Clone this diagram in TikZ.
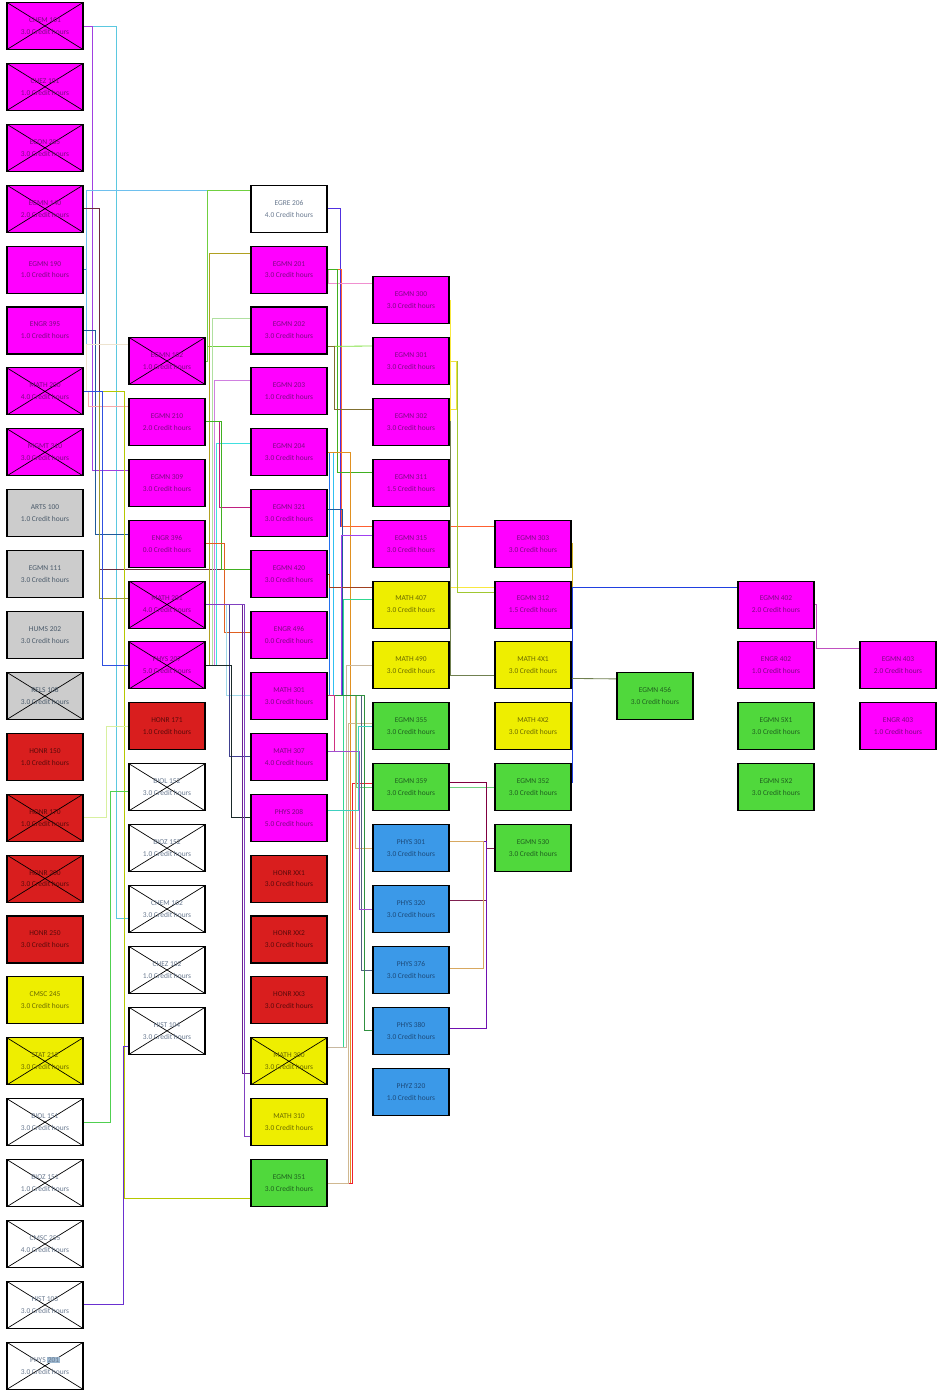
\documentclass[tikz,border=0pt]{standalone}
\usepackage{fontspec}
\setmainfont{Carlito}
\usepackage{tikz}
\usetikzlibrary{calc,backgrounds}
\definecolor{fmag}{HTML}{FF00FF}
\definecolor{tmag}{HTML}{7A0A80}
\definecolor{fgry}{HTML}{CCCCCC}
\definecolor{tgry}{HTML}{4A5A6A}
\definecolor{fhon}{HTML}{D91E1E}
\definecolor{thon}{HTML}{5A0A0A}
\definecolor{fyel}{HTML}{EEEE00}
\definecolor{tyel}{HTML}{6A6A00}
\definecolor{fgrn}{HTML}{50D83C}
\definecolor{tgrn}{HTML}{1F5F1F}
\definecolor{fblu}{HTML}{3B99E8}
\definecolor{tblu}{HTML}{1C4A7A}
\definecolor{twht}{HTML}{6A7A90}
\definecolor{hilite}{HTML}{9DB8D0}
% connector colours
\definecolor{lcyan}{HTML}{5BC8E0}
\definecolor{lpurple}{HTML}{A040E0}
\definecolor{lsky}{HTML}{6EC0EE}
\definecolor{lblue}{HTML}{3A80D0}
\definecolor{lmaroon}{HTML}{6B2C3E}
\definecolor{lnavy}{HTML}{1F5A9A}
\definecolor{lbeige}{HTML}{EDE3CF}
\definecolor{lpink}{HTML}{F4AAAA}
\definecolor{lyelgrn}{HTML}{B5C800}
\definecolor{lolive}{HTML}{9A9A30}
\definecolor{lroyal}{HTML}{3050E0}
\definecolor{lpale}{HTML}{D8F0A0}
\definecolor{lgreen}{HTML}{50D050}
\definecolor{lviolet}{HTML}{6A30D0}
\definecolor{lgrass}{HTML}{70D040}
\definecolor{lmustard}{HTML}{B0A020}
\definecolor{lmint}{HTML}{B0E0A0}
\definecolor{llilac}{HTML}{D080E0}
\definecolor{laqua}{HTML}{40E0E0}
\definecolor{lrose}{HTML}{C02080}
\definecolor{lleaf}{HTML}{40B020}
\definecolor{lorange}{HTML}{E06020}
\definecolor{lice}{HTML}{A0D8E8}
\definecolor{lindigo}{HTML}{404090}
\definecolor{lblack}{HTML}{1A2A2A}
\definecolor{lplum}{HTML}{6A2090}
\definecolor{lamethyst}{HTML}{8040C0}
\definecolor{lbluevio}{HTML}{5030E0}
\definecolor{lcoral}{HTML}{FF6030}
\definecolor{lorchid}{HTML}{F090D0}
\definecolor{llime}{HTML}{80E040}
\definecolor{lkhaki}{HTML}{807030}
\definecolor{lamber}{HTML}{E09020}
\definecolor{lred}{HTML}{F02030}
\definecolor{lsand}{HTML}{D0B890}
\definecolor{ljade}{HTML}{30D890}
\definecolor{ltaupe}{HTML}{C8B8A0}
\definecolor{lrust}{HTML}{A04020}
\definecolor{lmauve}{HTML}{A040F0}
\definecolor{lsage}{HTML}{70D080}
\definecolor{ltan}{HTML}{D8B070}
\definecolor{lslate}{HTML}{506080}
\definecolor{lforest}{HTML}{309040}
\definecolor{lheather}{HTML}{A050D0}
\definecolor{lteal}{HTML}{40D0C0}
\definecolor{lazure}{HTML}{2070F0}
\definecolor{lsky2}{HTML}{30C0F0}
\definecolor{lberry}{HTML}{D03080}
\definecolor{lsun}{HTML}{F8E840}
\definecolor{lchart}{HTML}{A0C830}
\definecolor{llemon}{HTML}{F0E040}
\definecolor{lmoss}{HTML}{708050}
\definecolor{lgold}{HTML}{D0B020}
\definecolor{lcobalt}{HTML}{2040E0}
\definecolor{lpeony}{HTML}{C050C0}
\definecolor{lwine}{HTML}{800040}
\definecolor{lclaret}{HTML}{802050}
\definecolor{lgrape}{HTML}{7010B0}
\definecolor{lcamel}{HTML}{D8A860}
\newcommand{\crsfont}{\fontsize{5.3}{8.5}\selectfont}
\newcommand{\hl}[1]{{\setlength{\fboxsep}{0.4pt}\colorbox{hilite}{#1}}}
\tikzset{
  course/.style={draw=black,line width=.75pt,minimum width=1.9cm,minimum height=1.175cm,
    inner sep=0pt,align=center,font=\crsfont},
  xed/.style={path picture={\draw[black,line width=.5pt]
    (path picture bounding box.north west)--(path picture bounding box.south east)
    (path picture bounding box.south west)--(path picture bounding box.north east);}},
  mag/.style={course,fill=fmag,text=tmag},
  magx/.style={mag,xed},
  gry/.style={course,fill=fgry,text=tgry},
  gryx/.style={gry,xed},
  hon/.style={course,fill=fhon,text=thon},
  honx/.style={hon,xed},
  yel/.style={course,fill=fyel,text=tyel},
  yelx/.style={yel,xed},
  grn/.style={course,fill=fgrn,text=tgrn},
  blu/.style={course,fill=fblu,text=tblu},
  wht/.style={course,fill=white,text=twht},
  whtx/.style={wht,xed},
  wire/.style={draw=#1,line width=.6pt},
}

\begin{document}
\begin{tikzpicture}[x=0.025cm,y=-0.025cm]
  \useasboundingbox (0,0) rectangle (943,1398);
  % first year column
  \foreach \n/\t/\h/\s [count=\i from 0] in {chem101/CHEM 101/3.0/magx,chez101/CHEZ 101/1.0/magx,
      econ205/ECON 205/3.0/magx,egmn140/EGMN 140/2.0/magx,egmn190/EGMN 190/1.0/mag,
      engr395/ENGR 395/1.0/mag,math200/MATH 200/4.0/magx,mgmt310/MGMT 310/3.0/magx,
      arts100/ARTS 100/1.0/gry,egmn111/EGMN 111/3.0/gry,hums202/HUMS 202/3.0/gry,
      rels108/RELS 108/3.0/gryx,honr150/HONR 150/1.0/hon,honr170/HONR 170/1.0/honx,
      honr200/HONR 200/3.0/honx,honr250/HONR 250/3.0/hon,cmsc245/CMSC 245/3.0/yel,
      stat212/STAT 212/3.0/yelx,biol151/BIOL 151/3.0/whtx,bioz151/BIOZ 151/1.0/whtx,
      cmsc255/CMSC 255/4.0/whtx,hist103/HIST 103/3.0/whtx,phys201/PHYS {\hl{201}}/3.0/whtx}
    {\node[\s] (\n) at (45,{26+60.9*\i}) {\t\\\h\ Credit hours};}
  % second column
  \foreach \n/\t/\h/\s [count=\i from 0] in {egmn102/EGMN 102/1.0/magx,egmn210/EGMN 210/2.0/mag,
      egmn309/EGMN 309/3.0/mag,engr396/ENGR 396/0.0/mag,math201/MATH 201/4.0/magx,
      phys207/PHYS 207/5.0/magx,honr171/HONR 171/1.0/hon,biol152/BIOL 152/3.0/whtx,
      bioz152/BIOZ 152/1.0/whtx,chem102/CHEM 102/3.0/whtx,chez102/CHEZ 102/1.0/whtx,
      hist104/HIST 104/3.0/whtx}
    {\node[\s] (\n) at (167,{26+60.9*(\i+5.5)}) {\t\\\h\ Credit hours};}
  % third column
  \foreach \n/\t/\h/\s [count=\i from 0] in {egre206/EGRE 206/4.0/wht,egmn201/EGMN 201/3.0/mag,
      egmn202/EGMN 202/3.0/mag,egmn203/EGMN 203/1.0/mag,egmn204/EGMN 204/3.0/mag,
      egmn321/EGMN 321/3.0/mag,egmn420/EGMN 420/3.0/mag,engr496/ENGR 496/0.0/mag,
      math301/MATH 301/3.0/mag,math307/MATH 307/4.0/mag,phys208/PHYS 208/5.0/mag,
      honrxx1/HONR XX1/3.0/hon,honrxx2/HONR XX2/3.0/hon,honrxx3/HONR XX3/3.0/hon,
      math300/MATH 300/3.0/yelx,math310/MATH 310/3.0/yel,egmn351/EGMN 351/3.0/grn}
    {\node[\s] (\n) at (289,{26+60.9*(\i+3)}) {\t\\\h\ Credit hours};}
  % fourth column
  \foreach \n/\t/\h/\s [count=\i from 0] in {egmn300/EGMN 300/3.0/mag,egmn301/EGMN 301/3.0/mag,
      egmn302/EGMN 302/3.0/mag,egmn311/EGMN 311/1.5/mag,egmn315/EGMN 315/3.0/mag,
      math407/MATH 407/3.0/yel,math490/MATH 490/3.0/yel,egmn355/EGMN 355/3.0/grn,
      egmn359/EGMN 359/3.0/grn,phys301/PHYS 301/3.0/blu,phys320/PHYS 320/3.0/blu,
      phys376/PHYS 376/3.0/blu,phys380/PHYS 380/3.0/blu,phyz320/PHYZ 320/1.0/blu}
    {\node[\s] (\n) at (411,{26+60.9*(\i+4.5)}) {\t\\\h\ Credit hours};}
  % fifth column
  \foreach \n/\t/\h/\s [count=\i from 0] in {egmn303/EGMN 303/3.0/mag,egmn312/EGMN 312/1.5/mag,
      math4x1/MATH 4X1/3.0/yel,math4x2/MATH 4X2/3.0/yel,egmn352/EGMN 352/3.0/grn,
      egmn530/EGMN 530/3.0/grn}
    {\node[\s] (\n) at (533,{26+60.9*(\i+8.5)}) {\t\\\h\ Credit hours};}
  \node[grn] (egmn456) at (655,{26+60.9*11}) {EGMN 456\\3.0 Credit hours};
  \foreach \n/\t/\h/\s [count=\i from 0] in {egmn402/EGMN 402/2.0/mag,engr402/ENGR 402/1.0/mag,
      egmn5x1/EGMN 5X1/3.0/grn,egmn5x2/EGMN 5X2/3.0/grn}
    {\node[\s] (\n) at (776,{26+60.9*(\i+9.5)}) {\t\\\h\ Credit hours};}
  \node[mag] (egmn403) at (898,{26+60.9*10.5}) {EGMN 403\\2.0 Credit hours};
  \node[mag] (engr403) at (898,{26+60.9*11.5}) {ENGR 403\\1.0 Credit hours};

  \begin{scope}[on background layer]
  % from the first column
  \draw[wire=lcyan] (chem101.east) -- ++(33,0) |- ($(chem102.west)+(0,9)$);
  \draw[wire=lpurple] (chem101.east) -- ++(9,0) |- ($(egmn309.west)+(0,-12)$);
  \draw[wire=lblue] (egmn190.east) -- ++(3,0) |- ($(egre206.west)+(0,-18)$);
  \draw[wire=lsky] (math200.east) -- ++(3,0) |- ($(egre206.west)+(0,-18)$);
  \draw[wire=lmaroon] (egmn140.east) -- ++(16,0) |- ($(egmn420.west)+(0,-5)$);
  \draw[wire=lnavy] (engr395.east) -- ++(12,0) |- ($(engr396.west)+(0,-9)$);
  \draw[wire=lbeige] (math200.east) -- ++(3,0) |- ($(egmn102.west)+(0,-17)$);
  \draw[wire=lpink] (math200.east) -- ++(5,0) |- ($(egmn210.west)+(0,-15)$);
  \draw[wire=lyelgrn] (math200.east) -- ++(41,0) |- ($(egmn351.west)+(0,15)$);
  \draw[wire=lolive] (math200.east) -- ++(16,0) |- ($(math201.west)+(0,-6)$);
  \draw[wire=lroyal] (math200.east) -- ++(19,0) |- (phys207.west);
  \draw[wire=lpale] (honr170.east) -- ++(23,0) |- (honr171.west);
  \draw[wire=lgreen] (biol151.east) -- ++(27,0) |- ($(biol152.west)+(0,4)$);
  \draw[wire=lviolet] (hist103.east) -- ++(40,0) |- ($(hist104.west)+(0,16)$);
  % from the second column
  \draw[wire=lgrass] (egmn102.east) -- ++(2,0) |- ($(egre206.west)+(0,-18)$);
  \draw[wire=lgrass] (egmn102.east) -- ++(2,0) |- ($(egmn202.west)+(0,16)$);
  \draw[wire=lmustard] (phys207.east) -- ++(4,0) |- ($(egmn201.west)+(0,-16)$);
  \draw[wire=lmint] (phys207.east) -- ++(7,0) |- ($(egmn202.west)+(0,-12)$);
  \draw[wire=llilac] (phys207.east) -- ++(9,0) |- ($(egmn203.west)+(0,-11)$);
  \draw[wire=laqua] (phys207.east) -- ++(11,0) |- ($(egmn204.west)+(0,-9)$);
  \draw[wire=lrose] (egmn210.east) -- ++(14,0) |- ($(egmn321.west)+(0,-6)$);
  \draw[wire=lleaf] (egmn210.east) -- ++(16,0) |- ($(egmn420.west)+(0,-5)$);
  \draw[wire=lorange] (engr396.east) -- ++(19,0) |- ($(engr496.west)+(0,-3)$);
  \draw[wire=lice] (math201.east) -- ++(21,0) |- (math301.west);
  \draw[wire=lindigo] (math201.east) -- ++(24,0) |- (math307.west);
  \draw[wire=lblack] (phys207.east) -- ++(26,0) |- (phys208.west);
  \draw[wire=lplum] (math201.east) -- ++(37,0) |- ($(math300.west)+(0,12)$);
  \draw[wire=lamethyst] (math201.east) -- ++(39,0) |- ($(math310.west)+(0,14)$);
  % from the third column
  \draw[wire=lbluevio] (egre206.east) -- ++(13,0) |- ($(egmn303.west)+(0,-17)$);
  \draw[wire=lcoral] (egmn201.east) -- ++(14,0) |- ($(egmn303.west)+(0,-17)$);
  \draw[wire=lorchid] (egmn201.east) -- ++(1,0) |- ($(egmn300.west)+(0,-17)$);
  \draw[wire=lleaf] (egmn201.east) -- ++(10,0) |- ($(egmn311.west)+(0,-10)$);
  \draw[wire=llime] ($(egmn202.east)+(0,16)$) -- ($(egmn301.west)+(0,-15)$);
  \draw[wire=lkhaki] ($(egmn202.east)+(0,16)$) -- ++(7,0) |- ($(egmn302.west)+(0,-12)$);
  \draw[wire=lazure] (egmn204.east) -- ++(2,0) |- (math301.east);
  \draw[wire=lsky2] (egmn204.east) -- ++(6,0) |- (math301.east);
  \draw[wire=lnavy] ($(egmn321.east)+(0,-4)$) -- ++(15,0) |- (math301.east);
  \draw[wire=lamber] (egmn204.east) -- ++(23,0) |- (egmn351.east);
  \draw[wire=lred] (egmn351.east) -- ++(25,0) |- ($(egmn359.west)+(0,-4)$);
  \draw[wire=lsand] (egmn351.east) -- ++(21,0) |- ($(egmn355.west)+(0,-3)$);
  \draw[wire=ljade] ($(math300.east)+(0,-14)$) -- ++(16,0) |- ($(math407.west)+(0,-5)$);
  \draw[wire=ltaupe] ($(math300.east)+(0,-14)$) -- ++(19,0) |- (math490.west);
  \draw[wire=lrust] (egmn420.east) -- ++(2,0) |- ($(math407.west)+(0,-17)$);
  \draw[wire=lmauve] (math301.east) -- ++(14,0) |- ($(egmn315.west)+(0,-8)$);
  \draw[wire=lsage] (math301.east) -- ++(29,0) |- (egmn352.west);
  \draw[wire=ltan] (math301.east) -- ++(28,0) |- (phys301.west);
  \draw[wire=lslate] (math301.east) -- ++(34,0) |- (phys376.west);
  \draw[wire=lforest] (math301.east) -- ++(37,0) |- (phys380.west);
  \draw[wire=lberry] (math301.east) -- ++(7,0) |- ($(math307.east)+(0,-5)$);
  \draw[wire=lheather] ($(math307.east)+(0,-5)$) -- ++(32,0) |- (phys320.west);
  \draw[wire=lteal] ($(phys208.east)+(0,-7)$) -- ++(31,0) |- (egmn355.west);
  % from the fourth column on
  \draw[wire=lsun] (egmn300.east) -- ++(1,0) |- ($(egmn402.west)+(0,-17)$);
  \draw[wire=lchart] (egmn301.east) -- ++(8,0) |- ($(egmn312.west)+(0,-12)$);
  \draw[wire=llemon] (egmn301.east) -- ++(7,0) |- ($(egmn302.east)+(0,-12)$);
  \draw[wire=lmoss] (egmn302.east) -- ++(1,0) |- ($(math4x1.west)+(0,10)$);
  \draw[wire=lgold] (egmn303.east) -- ++(1,0) |- ($(egmn402.west)+(0,-17)$);
  \draw[wire=lcobalt] ($(egmn352.east)+(0,-5)$) -- ++(1,0) |- ($(egmn402.west)+(0,-17)$);
  \draw[wire=lmoss] ($(math4x1.east)+(0,13)$) -- ($(egmn456.west)+(0,-17)$);
  \draw[wire=lpeony] (egmn402.east) -- ++(2,0) |- ($(egmn403.west)+(0,-17)$);
  \draw[wire=lwine] ($(egmn359.east)+(0,-5)$) -- ++(37,0) |- (egmn530.west);
  \draw[wire=lclaret] ($(phys320.east)+(0,-9)$) -- ++(37,0) |- (egmn530.west);
  \draw[wire=lgrape] ($(phys301.east)+(0,-7)$) -- ++(37,0) |- ($(phys380.east)+(0,-2)$);
  \draw[wire=lcamel] ($(phys376.east)+(0,-2)$) -- ++(34,0) |- ($(phys301.east)+(0,-7)$);
  \end{scope}
\end{tikzpicture}
\end{document}
